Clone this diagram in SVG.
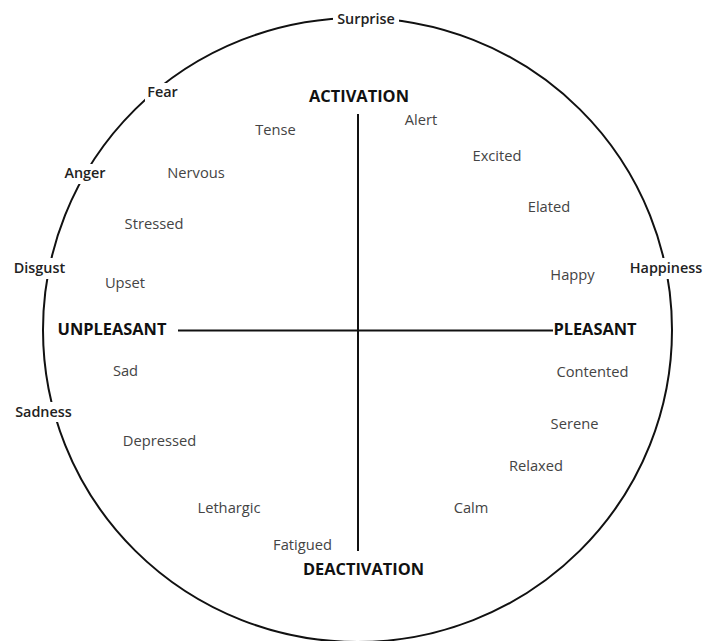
<svg xmlns="http://www.w3.org/2000/svg" width="704" height="641" viewBox="0 0 704 641">
<style>
.bg{fill:#ffffff}
.ring{fill:none;stroke:#111;stroke-width:2}
.axis{stroke:#111;stroke-width:2;fill:none}
.mask{fill:#ffffff}
text{font-family:"Open Sans","DejaVu Sans",sans-serif;text-anchor:middle}
.ax{font-size:16.4px;font-weight:700;fill:#111}
.em{font-size:14.4px;font-weight:600;fill:#222}
.st{font-size:14.7px;font-weight:400;fill:#444}
</style>
<rect class="bg" x="0" y="0" width="704" height="641"/>
<g id="connectors">
<ellipse class="ring" cx="357.5" cy="330" rx="314.5" ry="312"/>
<line class="axis" x1="358" y1="114" x2="358" y2="551"/>
<line class="axis" x1="178" y1="330.5" x2="553" y2="330.5"/>
</g>
<g id="surprise"><rect class="mask" x="333" y="8" width="66" height="21"/><text class="em" x="366" y="24">Surprise</text></g>
<g id="fear"><rect class="mask" x="145" y="83" width="36" height="19"/><text class="em" x="162.5" y="97">Fear</text></g>
<g id="anger"><rect class="mask" x="60" y="164" width="50" height="20"/><text class="em" x="85" y="178">Anger</text></g>
<g id="disgust"><rect class="mask" x="9" y="258" width="61" height="21"/><text class="em" x="39.5" y="273">Disgust</text></g>
<g id="happiness"><rect class="mask" x="626" y="258" width="78" height="21"/><text class="em" x="666" y="273">Happiness</text></g>
<g id="sadness"><rect class="mask" x="10" y="402" width="67" height="20"/><text class="em" x="43.5" y="417">Sadness</text></g>
<g id="activation"><text class="ax" x="359" y="102">ACTIVATION</text></g>
<g id="deactivation"><text class="ax" x="363.5" y="575">DEACTIVATION</text></g>
<g id="unpleasant"><text class="ax" x="112" y="335">UNPLEASANT</text></g>
<g id="pleasant"><text class="ax" x="595" y="335">PLEASANT</text></g>
<g id="tense"><text class="st" x="275.5" y="135">Tense</text></g>
<g id="nervous"><text class="st" x="196" y="178">Nervous</text></g>
<g id="stressed"><text class="st" x="154" y="229">Stressed</text></g>
<g id="upset"><text class="st" x="125" y="288">Upset</text></g>
<g id="alert"><text class="st" x="421" y="125">Alert</text></g>
<g id="excited"><text class="st" x="497" y="161">Excited</text></g>
<g id="elated"><text class="st" x="549" y="212">Elated</text></g>
<g id="happy"><text class="st" x="572.5" y="280">Happy</text></g>
<g id="sad"><text class="st" x="125.5" y="376">Sad</text></g>
<g id="depressed"><text class="st" x="159.5" y="446">Depressed</text></g>
<g id="lethargic"><text class="st" x="229" y="512.5">Lethargic</text></g>
<g id="fatigued"><text class="st" x="302.5" y="550">Fatigued</text></g>
<g id="contented"><text class="st" x="592.5" y="376.5">Contented</text></g>
<g id="serene"><text class="st" x="574.5" y="429">Serene</text></g>
<g id="relaxed"><text class="st" x="536" y="471">Relaxed</text></g>
<g id="calm"><text class="st" x="471" y="512.5">Calm</text></g>
</svg>
